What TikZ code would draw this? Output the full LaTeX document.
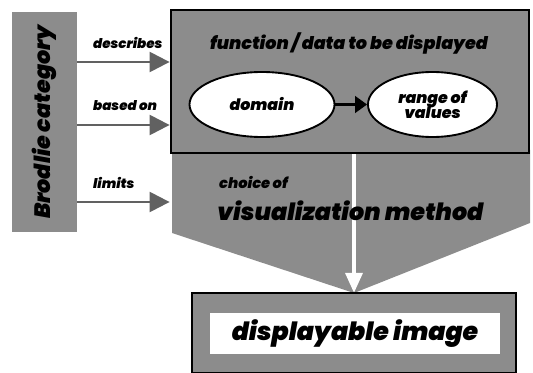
\documentclass[tikz,border=0pt]{standalone}
\usepackage{fontspec}
\setmainfont{Poppins}[BoldItalicFont={Poppins Black Italic}]
\usetikzlibrary{arrows.meta,shapes.geometric}

\begin{document}
\begin{tikzpicture}[x=0.03cm, y=-0.03cm, every node/.style={font=\bfseries\itshape}, halftone/.style={fill=black!45}, frame/.style={draw, line width=2.4pt, fill=black!45, inner sep=0pt}, oval/.style={draw, ellipse, line width=1.6pt, fill=white, inner sep=0pt, font=\fontsize{13.5}{13}\bfseries\itshape, align=center}, feed/.style={draw=black!62, line width=2pt, -{Triangle[length=6mm, width=6mm]}}, lbl/.style={anchor=west, font=\fontsize{11.5}{12}\bfseries\itshape}]
	\useasboundingbox (0,0) rectangle (533,373);
	% lower part: choice of method, narrowing to the image
	\coordinate (m1) at (172,150); \coordinate (m2) at (530,150); \coordinate (m3) at (530,223); \coordinate (tip) at (354,293); \coordinate (m4) at (172,233);
	\fill[halftone] (m1) -- (m2) -- (m3) -- (tip) -- (m4) -- cycle;
	\node[frame, minimum width=10.74cm, minimum height=4.29cm] (func) at (350,81.5) {};
	\node[font=\fontsize{15}{16}\bfseries\itshape] (functxt) at (349,43) {function / data to be displayed};
	\node[oval, minimum width=4.35cm, minimum height=1.95cm] (dom) at (262,104.5) {domain};
	\node[oval, minimum width=3.87cm, minimum height=1.95cm] (rng) at (432.5,104.5) {range of\\[-2pt]values};
	\draw[line width=2pt, -{Triangle[length=3.6mm, width=5mm]}] (dom) -- (rng);
	\coordinate (down) at (func.south -| tip);
	\draw[white, line width=3.5pt, -{Triangle[length=6mm, width=5mm]}] (down) -- (tip);
	\node[font=\fontsize{12.5}{13}\bfseries\itshape, anchor=west] (choice) at (215,182) {choice of};
	\node[font=\fontsize{20.3}{22}\bfseries\itshape, anchor=west] (method) at (213,211) {visualization method};
	% Brodlie bar and its three arrows
	\node[halftone, rotate=90, minimum width=6.6cm, minimum height=1.95cm, inner sep=0pt, font=\fontsize{19}{20}\bfseries\itshape] (brod) at (44.5,122) {Brodlie category};
	\foreach \y/\txt [count=\i] in {62/describes, 125/based on, 202/limits} {
		\coordinate (s\i) at (brod.south |- 0,\y); \coordinate (e\i) at (func.west |- 0,\y);
		\node[lbl] (l\i) at (89,{\y-19}) {\txt};
		\draw[feed] (s\i) -- (e\i);
	}
	% result
	\node[frame, minimum width=9.72cm, minimum height=2.4cm] (img) at (354,333) {};
	\node[fill=white, minimum width=8.7cm, minimum height=1.25cm, inner sep=0pt, font=\fontsize{21.5}{24}\bfseries\itshape] (imgtxt) at (355,333.5) {displayable image};
\end{tikzpicture}
\end{document}
